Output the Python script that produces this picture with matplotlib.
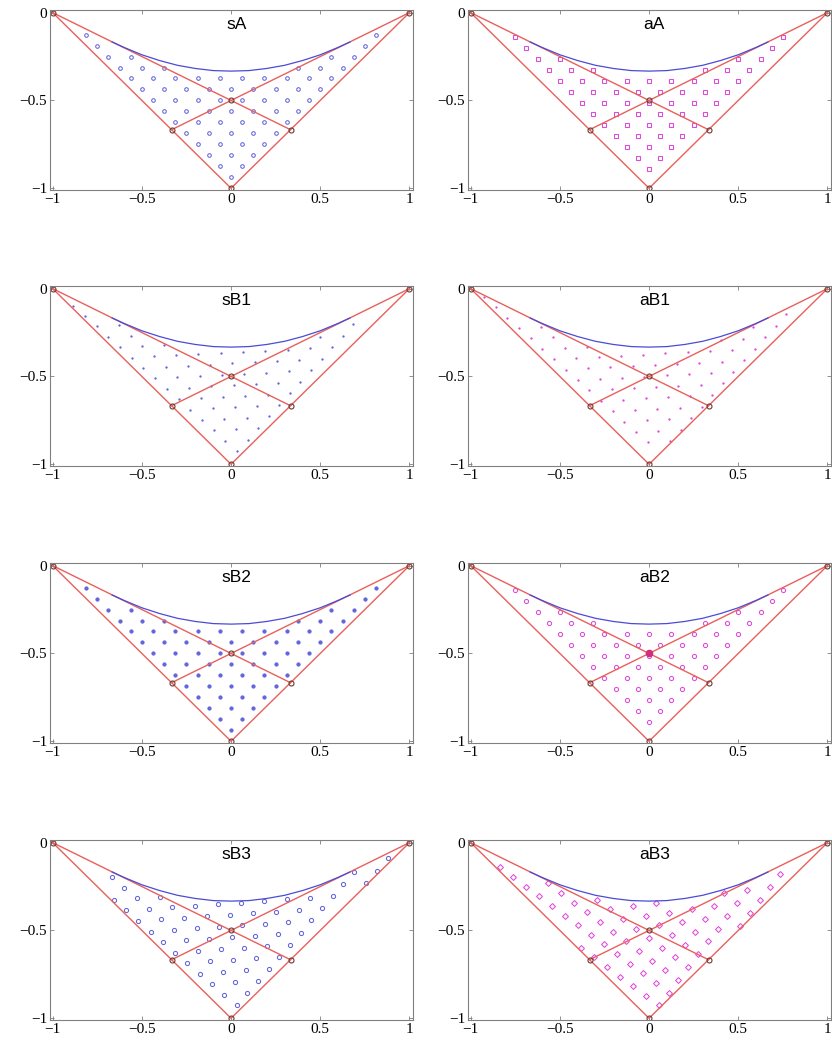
import numpy as np
import matplotlib.pyplot as plt

# panel titles, left column = s*, right column = a*
panel_names = ['sA', 'aA', 'sB1', 'aB1', 'sB2', 'aB2', 'sB3', 'aB3']

# special points (circled) and the red segments joining them
vert_x = [-1, 1, 0, -1/3, 1/3, 0]
vert_y = [0, 0, -1, -2/3, -2/3, -0.5]
seg_x = [[-1, 0, 1], [-1, 1/3], [1, -1/3]]
seg_y = [[0, -1, 0], [0, -2/3], [0, -2/3]]

# blue curve
curve_x = [-0.667, -0.6, -0.5, -0.4, -0.3, -0.2, -0.1, 0.0,
           0.1, 0.2, 0.3, 0.4, 0.5, 0.6, 0.667]
curve_y = [-0.167, -0.198, -0.240, -0.273, -0.300, -0.318, -0.330, -0.333,
           -0.330, -0.318, -0.300, -0.273, -0.240, -0.198, -0.167]

# node lattice of each panel (spacing, tilt in degrees, shift of the lowest node)
node_step = [0.0625, 0.0625, 0.0625, 0.0625, 0.0625, 0.0625, 0.0645, 0.0645]
node_tilt = [0, 0, 3, 3, 0, 0, 4, 8]
node_shift_x = [0.0625, 0.0, 0.034, 0.0, 0.0625, 0.0, 0.031, 0.0]
node_shift_y = [0.0, -0.015, 0.075, 0.0, 0.0, -0.015, 0.075, 0.0]

# marker styles per panel
node_marker = ['o', 's', '.', '.', 'o', 'o', 'o', 'D']
node_color = ['#6464dc', '#e048dc'] * 4
node_size = [2.6, 2.6, 1.8, 1.8, 2.3, 3.0, 3.0, 3.0]
node_fill = [False, False, True, True, True, False, False, False]

red = '#e8605c'
blue_line = '#4b4bd6'

# upper boundary of the filled region: corner lines + curve
bound_x = [-1.0] + curve_x + [1.0]
bound_y = [0.0] + curve_y + [0.0]


def nodes(k):
    h = node_step[k]
    n = int(2.5 / h)
    i, j = np.meshgrid(np.arange(-n, n + 1), np.arange(-n, n + 1))
    keep = (i + j) % 2 == 0
    px, py = i[keep] * h, j[keep] * h
    a = np.radians(node_tilt[k])
    x = px * np.cos(a) - py * np.sin(a) + node_shift_x[k]
    y = px * np.sin(a) + py * np.cos(a) - 1 + node_shift_y[k]
    inside = (y > np.abs(x) - 1 + 0.012) & (y < np.interp(x, bound_x, bound_y) - 0.01)
    return x[inside], y[inside]


fig = plt.figure(figsize=(8.32, 10.44), dpi=100)
W, H = 832, 1044
col_left = [50, 468]
row_top = [10, 286, 563, 840]
ax_w, ax_h = 363, 180

for k, name in enumerate(panel_names):
    r, c = divmod(k, 2)
    ax = fig.add_axes([col_left[c] / W, 1 - (row_top[r] + ax_h) / H, ax_w / W, ax_h / H])

    nx, ny = nodes(k)
    col = node_color[k]
    ax.plot(nx, ny, linestyle='none', marker=node_marker[k], ms=node_size[k],
            mec=col, mfc=col if node_fill[k] else 'none', mew=0.75, snap=False)

    for sx, sy in zip(seg_x, seg_y):
        ax.plot(sx, sy, color=red, lw=1.0)
    ax.plot(curve_x, curve_y, color=blue_line, lw=0.9)
    ax.plot(vert_x, vert_y, linestyle='none', marker='o', ms=3.6,
            mfc='none', mec='#6b3a33', mew=0.8)
    if name == 'aB2':
        ax.plot([vert_x[5]], [vert_y[5]], marker='o', ms=4.5, color='#d0307a')

    ax.text(0.03, -0.065, name, ha='center', va='center', fontsize=12.5,
            family='Liberation Sans')

    ax.set_xlim(-1.015, 1.02)
    ax.set_ylim(-1.01, 0.015)
    ax.set_xticks([-1, -0.5, 0, 0.5, 1])
    ax.set_xticklabels(['\u22121', '\u22120.5', '0', '0.5', '1'])
    ax.set_yticks([-1, -0.5, 0])
    ax.set_yticklabels(['\u22121', '\u22120.5', '0'])
    ax.tick_params(direction='in', length=3, width=0.6, top=True, right=True,
                   color='#808080', labelsize=11, pad=2)
    for lab in ax.get_xticklabels() + ax.get_yticklabels():
        lab.set_family('Liberation Serif')
    for sp in ax.spines.values():
        sp.set_color('#808080')
        sp.set_linewidth(0.8)

fig.savefig('out.png', dpi=100)
